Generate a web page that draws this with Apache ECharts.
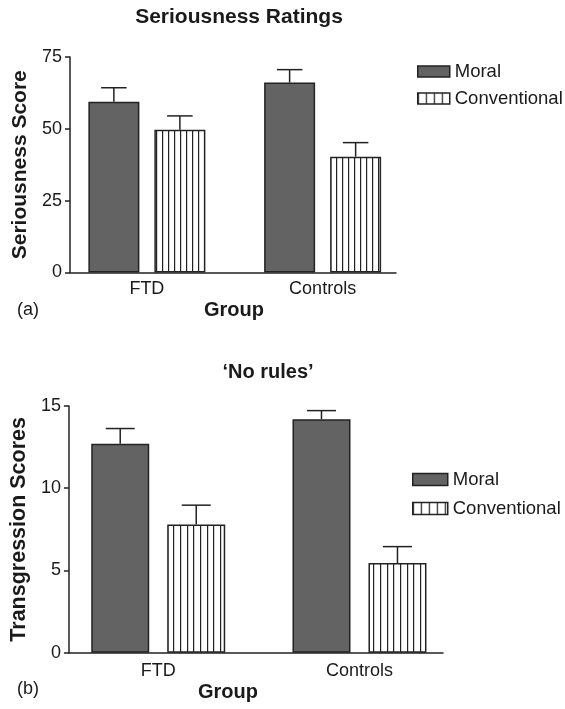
<!DOCTYPE html>
<html>
<head>
<meta charset="utf-8">
<script src="https://cdn.jsdelivr.net/npm/echarts@6/dist/echarts.min.js"></script>
<style>
html,body{margin:0;padding:0;background:#fff;}
#c{width:565px;height:709px;}
</style>
</head>
<body>
<div id="c"></div>
<script>
// ---- data ----
const categories = ['FTD', 'Controls'];
const seriesNames = ['Moral', 'Conventional'];
// (a) Seriousness Ratings
const seriousMoral = [59.4, 66.1];
const seriousMoralErr = [4.9, 4.5];
const seriousConv = [49.7, 40.3];
const seriousConvErr = [4.8, 4.9];
const seriousTicks = [0, 25, 50, 75];
// (b) 'No rules'
const transMoral = [12.7, 14.2];
const transMoralErr = [0.93, 0.52];
const transConv = [7.8, 5.45];
const transConvErr = [1.17, 1.0];
const transTicks = [0, 5, 10, 15];

// ---- styles ----
const FONT = '"Liberation Sans", Arial, Helvetica, sans-serif';
const TXT = '#1a1a1a';
const LINE = '#222';
const DARK = '#636363';

function stripePattern(width, xs) {
  const cv = document.createElement('canvas');
  cv.width = width; cv.height = 4;
  const ctx = cv.getContext('2d');
  ctx.fillStyle = '#fff';
  ctx.fillRect(0, 0, width, 4);
  ctx.fillStyle = '#222';
  xs.forEach(function (x) { ctx.fillRect(x, 0, 1.2, 4); });
  return { image: cv, repeat: 'repeat' };
}
const stripeTop = stripePattern(6, [0]);
const stripeBot = stripePattern(20, [0, 7, 13]);
const stripeLegend = stripePattern(8, [0]);

const chart = echarts.init(document.getElementById('c'), null, { renderer: 'canvas' });

const A = { top: 57, h: 215.5, frameL: 70, frameW: 326, barL: 59, barW: 351.5, bw: 51, gap: 15 };
const B = { top: 406, h: 246.7, frameL: 68, frameW: 375, barL: 57.6, barW: 402.5, bw: 58, gap: 18 };

function errSeries(xi, yi, means, errs, side, p) {
  const data = means.map(function (m, i) { return [i, m, errs[i]]; });
  return {
    type: 'custom', xAxisIndex: xi, yAxisIndex: yi, z: 5, silent: true,
    data: data,
    renderItem: function (params, api) {
      const idx = api.value(0), m = api.value(1), e = api.value(2);
      const off = side * (p.bw + p.gap) / 2;
      const b = api.coord([idx, m]);
      const t = api.coord([idx, m + e]);
      const x = b[0] + off;
      const half = p.bw * 0.25;
      return {
        type: 'group',
        children: [
          { type: 'line', shape: { x1: x, y1: b[1], x2: x, y2: t[1] }, style: { stroke: LINE, lineWidth: 1.5 } },
          { type: 'line', shape: { x1: x - half, y1: t[1], x2: x + half, y2: t[1] }, style: { stroke: LINE, lineWidth: 1.5 } }
        ]
      };
    }
  };
}

function frameAxes(p, ticks, name, nameSize, nameGap, gi) {
  return {
    x: { type: 'value', gridIndex: gi, min: 0, max: 1, axisLine: { show: true, lineStyle: { color: LINE, width: 1.5 } }, axisTick: { show: false }, axisLabel: { show: false }, splitLine: { show: false } },
    y: { type: 'value', gridIndex: gi, min: ticks[0], max: ticks[ticks.length - 1], interval: ticks[1] - ticks[0],
      axisLine: { show: true, lineStyle: { color: LINE, width: 1.5 } },
      axisTick: { show: true, length: 5, lineStyle: { color: LINE, width: 1.5 } },
      axisLabel: { fontSize: 18, color: TXT, fontFamily: FONT, margin: 8 },
      splitLine: { show: false },
      name: name, nameLocation: 'middle', nameGap: nameGap,
      nameTextStyle: { fontSize: nameSize, fontWeight: 'bold', color: TXT, fontFamily: FONT } }
  };
}

const fa = frameAxes(A, seriousTicks, 'Seriousness Score', 21, 33, 0);
const fb = frameAxes(B, transTicks, 'Transgression Scores', 21.5, 31, 2);

function barX(gi, margin) {
  return { type: 'category', gridIndex: gi, data: categories, axisLine: { show: false }, axisTick: { show: false },
    axisLabel: { fontSize: 18, color: TXT, fontFamily: FONT, margin: margin } };
}
function barY(gi, ticks) {
  return { type: 'value', gridIndex: gi, min: ticks[0], max: ticks[ticks.length - 1], show: false };
}

function barSeries(name, xi, yi, values, fill, p) {
  return {
    name: name, type: 'bar', xAxisIndex: xi, yAxisIndex: yi, data: values,
    barWidth: p.bw, barGap: (p.gap / p.bw * 100).toFixed(1) + '%',
    itemStyle: { color: fill, borderColor: LINE, borderWidth: 1.5 }, z: 3, silent: true
  };
}

function legendData() {
  return [
    { name: seriesNames[0], icon: 'rect', itemStyle: { color: DARK, borderColor: LINE, borderWidth: 1.5 } },
    { name: seriesNames[1], icon: 'rect', itemStyle: { color: stripeLegend, borderColor: LINE, borderWidth: 1.5 } }
  ];
}

const option = {
  animation: false,
  backgroundColor: '#fff',
  grid: [
    { left: A.frameL, top: A.top, width: A.frameW, height: A.h },
    { left: A.barL, top: A.top, width: A.barW, height: A.h },
    { left: B.frameL, top: B.top, width: B.frameW, height: B.h },
    { left: B.barL, top: B.top, width: B.barW, height: B.h }
  ],
  xAxis: [fa.x, barX(1, 8), fb.x, barX(3, 9)],
  yAxis: [fa.y, barY(1, seriousTicks), fb.y, barY(3, transTicks)],
  legend: [
    { orient: 'vertical', left: 417, top: 62, itemWidth: 32, itemHeight: 11, itemGap: 8, padding: 0,
      textStyle: { fontSize: 18.5, color: TXT, fontFamily: FONT }, data: legendData(), selectedMode: false },
    { orient: 'vertical', left: 412, top: 470, itemWidth: 35, itemHeight: 12, itemGap: 10, padding: 0,
      textStyle: { fontSize: 18.5, color: TXT, fontFamily: FONT }, data: legendData(), selectedMode: false }
  ],
  series: [
    barSeries(seriesNames[0], 1, 1, seriousMoral, DARK, A),
    barSeries(seriesNames[1], 1, 1, seriousConv, stripeTop, A),
    errSeries(1, 1, seriousMoral, seriousMoralErr, -1, A),
    errSeries(1, 1, seriousConv, seriousConvErr, 1, A),
    barSeries(seriesNames[0], 3, 3, transMoral, DARK, B),
    barSeries(seriesNames[1], 3, 3, transConv, stripeBot, B),
    errSeries(3, 3, transMoral, transMoralErr, -1, B),
    errSeries(3, 3, transConv, transConvErr, 1, B)
  ],
  graphic: [
    { type: 'text', x: 239, y: 17, style: { text: 'Seriousness Ratings', fontSize: 21, fontWeight: 'bold', fontFamily: FONT, fill: TXT, align: 'center', verticalAlign: 'middle' } },
    { type: 'text', x: 234, y: 310, style: { text: 'Group', fontSize: 20, fontWeight: 'bold', fontFamily: FONT, fill: TXT, align: 'center', verticalAlign: 'middle' } },
    { type: 'text', x: 28, y: 310, style: { text: '(a)', fontSize: 18, fontFamily: FONT, fill: TXT, align: 'center', verticalAlign: 'middle' } },
    { type: 'text', x: 268, y: 372, style: { text: '\u2018No rules\u2019', fontSize: 20, fontWeight: 'bold', fontFamily: FONT, fill: TXT, align: 'center', verticalAlign: 'middle' } },
    { type: 'text', x: 228, y: 692, style: { text: 'Group', fontSize: 20, fontWeight: 'bold', fontFamily: FONT, fill: TXT, align: 'center', verticalAlign: 'middle' } },
    { type: 'text', x: 28, y: 689, style: { text: '(b)', fontSize: 18, fontFamily: FONT, fill: TXT, align: 'center', verticalAlign: 'middle' } }
  ]
};
chart.setOption(option);
</script>
</body>
</html>
